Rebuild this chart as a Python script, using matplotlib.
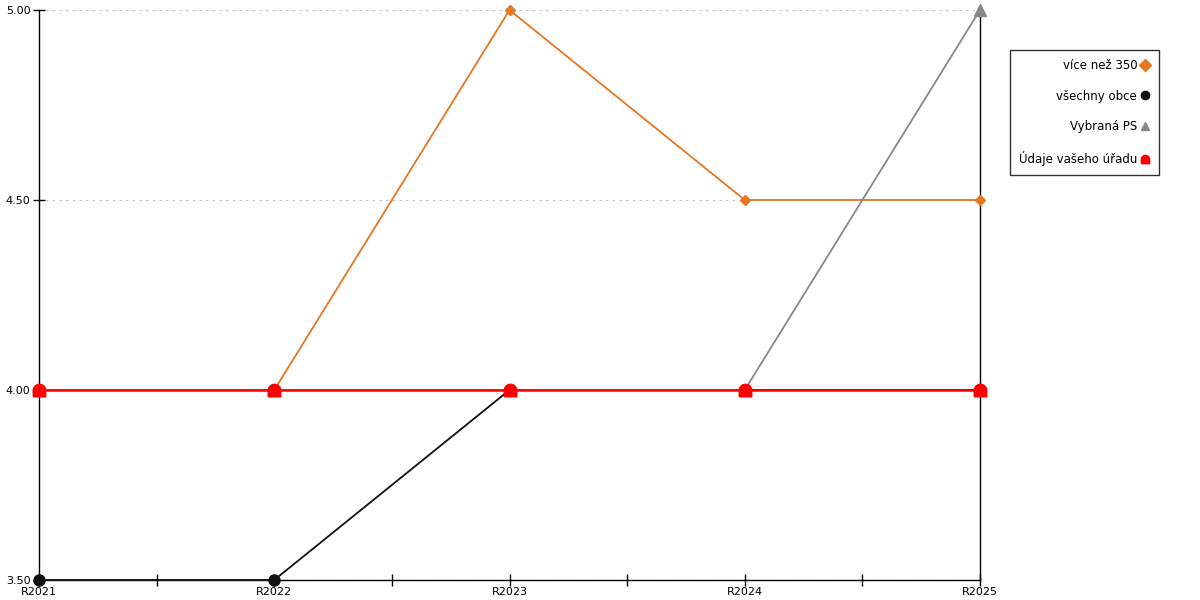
import matplotlib
matplotlib.use("Agg")
import matplotlib.pyplot as plt
from matplotlib.path import Path
from matplotlib.ticker import FixedLocator
import numpy as np

categories = ["R2021", "R2022", "R2023", "R2024", "R2025"]
vice_nez_350 = [4.0, 4.0, 5.0, 4.5, 4.5]
vsechny_obce = [3.5, 3.5, 4.0, 4.0, 4.0]
vybrana_ps = [4.0, 4.0, 4.0, 4.0, 5.0]
udaje_uradu = [4.0, 4.0, 4.0, 4.0, 4.0]
y_ticks = [3.5, 4.0, 4.5, 5.0]

plt.rcParams['font.family'] = ['DejaVu Sans']

# house-shaped marker: square bottom, rounded top
theta = np.linspace(0, np.pi, 12)
verts = [(-1, -1), (1, -1), (1, 0)] + [(np.cos(t), np.sin(t)) for t in theta] + [(-1, 0), (-1, -1)]
house = Path(verts)

fig = plt.figure(figsize=(12, 6), dpi=100)
ax = fig.add_axes([39/1200, 20/600, (980-39)/1200, 570/600])
x = np.arange(len(categories))

ax.plot(x, vice_nez_350, color='#E8761E', marker='D', markersize=5, lw=1.3, label='více než 350', zorder=3, clip_on=False)
ax.plot(x, vsechny_obce, color='#111111', marker='o', markersize=8, lw=1.3, label='všechny obce', zorder=4, clip_on=False)
ax.plot(x, vybrana_ps, color='#888888', marker='^', markersize=8, lw=1.3, label='Vybraná PS', zorder=5, clip_on=False)
ax.plot(x, udaje_uradu, color='#FF0000', marker=house, markersize=9, lw=1.8, label='Údaje vašeho úřadu', zorder=6, clip_on=False)

ax.set_xlim(0, 4)
ax.set_ylim(3.5, 5.0)
ax.set_xticks(x)
ax.set_xticklabels(categories, fontsize=8)
ax.xaxis.set_minor_locator(FixedLocator([0.5, 1.5, 2.5, 3.5]))
ax.set_yticks(y_ticks)
ax.set_yticklabels([f"{v:.2f}" for v in y_ticks], fontsize=8)
ax.tick_params(axis='x', which='both', direction='inout', length=8, pad=1, width=1)
ax.tick_params(axis='y', direction='inout', length=8, pad=2, width=1)
ax.grid(axis='y', color='#bbbbbb', linestyle=(0, (2, 4)), lw=0.8)
ax.spines['top'].set_visible(False)
for s in ['left', 'right', 'bottom']:
    ax.spines[s].set_color('black')
    ax.spines[s].set_linewidth(1)

leg = ax.legend(loc='upper left', bbox_to_anchor=(1010/1200, 1 - 50/600), bbox_transform=fig.transFigure,
                markerfirst=False, frameon=True, fancybox=False, edgecolor='black', fontsize=8.5,
                labelspacing=1.5, handlelength=0.8, handletextpad=0.3, borderpad=0.75, borderaxespad=0)
leg.get_frame().set_linewidth(1)
for h in leg.get_lines():
    h.set_linestyle('none')
    h.set_markersize(6)

fig.savefig("out.png", dpi=100, facecolor='white')
